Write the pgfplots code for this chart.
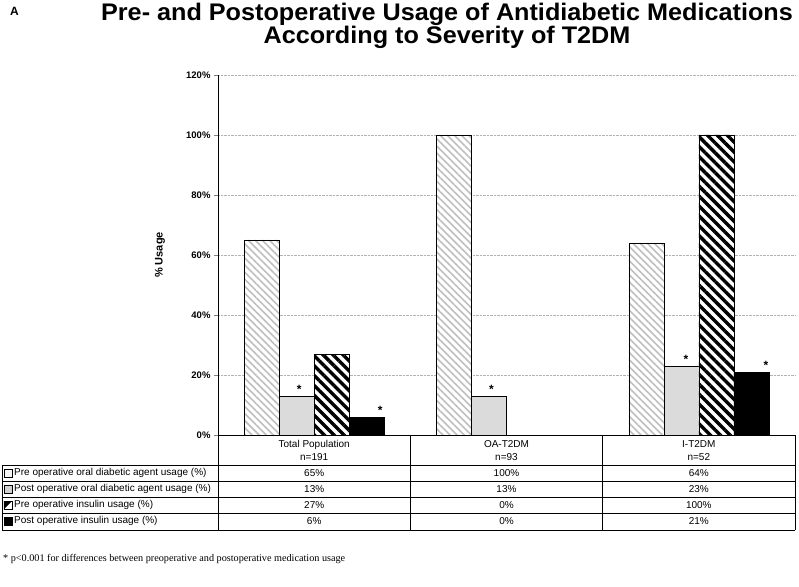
\documentclass[border=0pt]{standalone}
\usepackage{fontspec}
\setmainfont{Liberation Sans}
\newfontfamily\seriffont{Liberation Serif}
\newfontfamily\titlefont[FakeStretch=1.05]{Liberation Sans}
\usepackage{pgfplots}
\pgfplotsset{compat=1.18}
\usetikzlibrary{patterns.meta}
\tikzset{
  preoral/.style={draw=black, line width=0.6pt, fill=white,
    postaction={pattern={Lines[angle=-45,distance=5pt,line width=1.6pt]}, pattern color=gray!50}},
  postoral/.style={draw=black, line width=0.6pt, fill=gray!28},
  preins/.style={draw=black, line width=0.6pt, fill=white,
    postaction={pattern={Lines[angle=-45,distance=7pt,line width=3.4pt]}, pattern color=black}},
  postins/.style={draw=black, line width=0.6pt, fill=black},
  star/.style={font=\bfseries\fontsize{12}{12}\selectfont, anchor=base, inner sep=0pt}
}
\begin{document}
\begin{tikzpicture}
\path[use as bounding box] (-218pt,-151pt) rectangle (581pt,435pt);
\begin{axis}[
  at={(0pt,0pt)}, anchor=south west,
  scale only axis, width=577pt, height=360pt,
  xmin=-0.5, xmax=2.5, ymin=0, ymax=120,
  axis x line*=bottom, axis y line*=left,
  axis line style={line width=0.7pt},
  xtick=\empty,
  ytick={0,20,40,60,80,100,120},
  yticklabels={0\%,20\%,40\%,60\%,80\%,100\%,120\%},
  yticklabel style={font=\bfseries\fontsize{9.5}{10}\selectfont},
  tick align=outside, major tick length=4pt,
  ymajorgrids, grid style={densely dotted, gray!60, line width=0.6pt},
  ylabel={\% Usage},
  ylabel style={font=\bfseries\fontsize{11}{12}\selectfont, at={(axis description cs:-0.1005,0.5)}, anchor=center},
  ybar=0pt, bar width=35pt,
  clip=false,
]
\addplot[preoral] coordinates {(0,65) (1,100) (2,64)};
\addplot[postoral] coordinates {(0,13) (1,13) (2,23)};
\addplot[preins] coordinates {(0,27) (1,0) (2,100)};
\addplot[postins] coordinates {(0,6) (1,0) (2,21)};
\node[star] at (axis cs:0,13) [xshift=-15pt, yshift=3pt] {*};
\node[star] at (axis cs:1,13) [xshift=-15pt, yshift=3pt] {*};
\node[star] at (axis cs:2,23) [xshift=-13pt, yshift=3pt] {*};
\node[star] at (axis cs:0,6) [xshift=66pt, yshift=3pt] {*};
\node[star] at (axis cs:2,21) [xshift=67pt, yshift=3pt] {*};
\end{axis}
% title
\node[font=\bfseries\fontsize{12}{12}\selectfont, anchor=base west, inner sep=0pt] at (-208pt,419pt) {A};
\node[font=\titlefont\bfseries\fontsize{24}{24}\selectfont, anchor=base, inner sep=0pt] at (229pt,414pt) {Pre- and Postoperative Usage of Antidiabetic Medications};
\node[font=\titlefont\bfseries\fontsize{24}{24}\selectfont, anchor=base, inner sep=0pt] at (229pt,391.5pt) {According to Severity of T2DM};
% table
\begin{scope}[line width=0.6pt]
\draw (0pt,0pt) -- (0pt,-95pt);
\draw (192.3pt,0pt) -- (192.3pt,-95pt);
\draw (384.7pt,0pt) -- (384.7pt,-95pt);
\draw (577pt,0pt) -- (577pt,-95pt);
\foreach \y in {-30,-46,-62,-78,-95} {\draw (-216pt,\y pt) -- (577pt,\y pt);}
\draw (-216pt,-30pt) -- (-216pt,-95pt);
\end{scope}
\begin{scope}[every node/.style={font=\fontsize{10}{11}\selectfont, inner sep=0pt}]
\node at (96.2pt,-9.5pt) {Total Population};
\node at (96.2pt,-22.5pt) {n=191};
\node at (288.5pt,-9.5pt) {OA-T2DM};
\node at (288.5pt,-22.5pt) {n=93};
\node at (480.8pt,-9.5pt) {I-T2DM};
\node at (480.8pt,-22.5pt) {n=52};
\node[anchor=west] at (-204pt,-38pt) {Pre operative oral diabetic agent usage (\%)};
\node[anchor=west] at (-204pt,-54pt) {Post operative oral diabetic agent usage (\%)};
\node[anchor=west] at (-204pt,-70pt) {Pre operative insulin usage (\%)};
\node[anchor=west] at (-204pt,-86pt) {Post operative insulin usage (\%)};
\node at (96.2pt,-38pt) {65\%}; \node at (288.5pt,-38pt) {100\%}; \node at (480.8pt,-38pt) {64\%};
\node at (96.2pt,-54pt) {13\%}; \node at (288.5pt,-54pt) {13\%}; \node at (480.8pt,-54pt) {23\%};
\node at (96.2pt,-70pt) {27\%}; \node at (288.5pt,-70pt) {0\%}; \node at (480.8pt,-70pt) {100\%};
\node at (96.2pt,-86pt) {6\%}; \node at (288.5pt,-86pt) {0\%}; \node at (480.8pt,-86pt) {21\%};
\end{scope}
% legend keys
\draw[line width=0.5pt, fill=gray!8] (-214pt,-42pt) rectangle (-206pt,-34pt);
\draw[line width=0.5pt, fill=gray!35] (-214pt,-58pt) rectangle (-206pt,-50pt);
\draw[line width=0.5pt, fill=white] (-214pt,-74pt) rectangle (-206pt,-66pt);
\fill[black] (-214pt,-74pt) -- (-214pt,-66pt) -- (-206pt,-66pt) -- cycle;
\draw[line width=0.5pt, fill=black] (-214pt,-90pt) rectangle (-206pt,-82pt);
% footnote
\node[font=\seriffont\fontsize{10.2}{12}\selectfont, anchor=base west, inner sep=0pt] at (-215pt,-126pt) {* p<0.001 for differences between preoperative and postoperative medication usage};
\end{tikzpicture}
\end{document}
